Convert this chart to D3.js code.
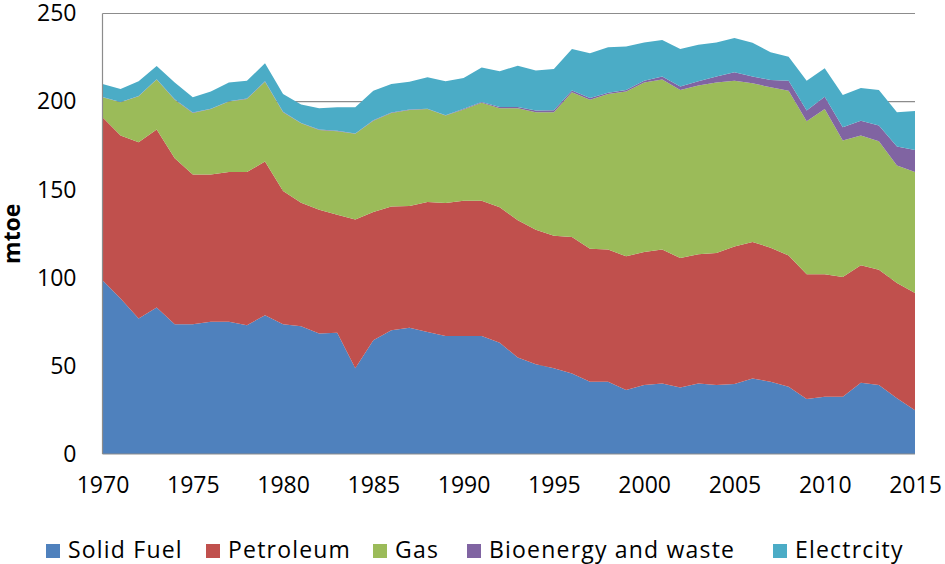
<!DOCTYPE html>
<html>
<head>
<meta charset="utf-8">
<script src="https://cdn.jsdelivr.net/npm/d3@7"></script>
<style>
  html, body { margin: 0; padding: 0; background: #fff; }
  svg { display: block; font-family: "Open Sans", "Lato", sans-serif; }
</style>
</head>
<body>
<svg id="chart" width="945" height="564"></svg>
<script>
const years = [1970,1971,1972,1973,1974,1975,1976,1977,1978,1979,1980,1981,1982,1983,1984,1985,1986,1987,1988,1989,1990,1991,1992,1993,1994,1995,1996,1997,1998,1999,2000,2001,2002,2003,2004,2005,2006,2007,2008,2009,2010,2011,2012,2013,2014,2015];
const seriesNames = ["Solid Fuel","Petroleum","Gas","Bioenergy and waste","Electrcity"];
const seriesColors = ["#4F81BD","#C0504D","#9BBB59","#8064A2","#4BACC6"];
const solidFuel = [98.6,88.2,76.9,83.1,73.7,73.7,75.0,75.0,73.1,78.8,73.7,72.5,68.4,68.8,48.6,64.6,70.3,71.6,69.3,66.9,66.9,66.9,63.1,54.8,51.0,48.6,45.7,41.0,41.0,36.3,39.1,40.0,37.8,40.0,39.1,39.7,42.9,41.0,38.1,31.2,32.5,32.5,40.4,39.1,31.6,24.9];
const petroleum = [92.5,92.5,100.1,101.0,94.2,84.9,83.6,85.0,86.9,87.2,75.5,70.1,70.2,67.0,84.5,72.7,70.2,69.1,73.7,75.5,76.8,76.8,77.0,77.8,76.3,75.3,77.4,75.5,75.0,75.9,75.5,76.0,73.4,73.3,75.0,78.1,77.4,76.1,74.6,70.8,69.5,68.0,66.7,65.5,65.5,66.5];
const gas = [11.3,18.9,26.0,28.4,33.2,35.0,37.2,40.0,41.5,45.3,44.8,45.1,45.3,47.4,48.6,51.9,53.1,54.6,52.8,49.7,51.8,55.6,56.1,63.6,66.7,70.1,82.2,84.6,88.3,93.6,96.3,96.5,95.4,95.8,96.8,94.1,90.1,91.0,93.5,86.8,93.8,77.4,73.6,72.9,66.6,68.6];
const bioenergy = [0.2,0.2,0.2,0.2,0.2,0.2,0.2,0.2,0.2,0.2,0.2,0.2,0.2,0.2,0.2,0.2,0.2,0.2,0.2,0.2,0.4,0.5,0.8,0.8,1.0,1.1,1.0,0.9,0.7,0.8,0.9,1.7,1.9,2.4,3.3,4.7,3.8,4.2,5.6,6.1,7.0,7.5,8.5,8.9,10.8,12.6];
const electricity = [7.4,7.4,8.3,7.5,9.6,8.6,9.8,10.7,10.2,10.2,10.1,10.4,12.1,13.4,14.9,16.8,16.2,15.8,17.8,19.2,17.5,19.6,20.2,23.4,22.6,23.4,23.6,25.4,25.8,24.7,21.7,20.8,21.4,20.8,19.4,19.5,19.2,15.7,13.7,17.0,16.1,18.4,18.5,20.2,19.5,22.0];
const xTicks = [1970,1975,1980,1985,1990,1995,2000,2005,2010,2015];
const yTicks = [0,50,100,150,200,250];
const yLabel = "mtoe";

const seriesValues = [solidFuel, petroleum, gas, bioenergy, electricity];
const table = years.map((yr, i) => {
  const row = { year: yr };
  seriesNames.forEach((n, k) => row[n] = seriesValues[k][i]);
  return row;
});

const svg = d3.select("#chart");
const mLeft = 102.5, mRight = 915, mTop = 13.5, mBottom = 454;
const x = d3.scaleLinear().domain([1970, 2015]).range([mLeft, mRight]);
const y = d3.scaleLinear().domain([0, 250]).range([mBottom, mTop]);

// gridlines
svg.append("g").selectAll("line").data(yTicks.filter(t => t > 0)).join("line")
  .attr("x1", mLeft).attr("x2", mRight)
  .attr("y1", d => y(d)).attr("y2", d => y(d))
  .attr("stroke", "#8c8c8c").attr("stroke-width", 1.2);

const stacked = d3.stack().keys(seriesNames)(table);
const area = d3.area()
  .x(d => x(d.data.year))
  .y0(d => y(d[0]))
  .y1(d => y(d[1]));

svg.append("g").selectAll("path").data(stacked).join("path")
  .attr("d", area)
  .attr("fill", (d, i) => seriesColors[i]);

// axis lines
svg.append("line").attr("x1", mLeft).attr("x2", mLeft).attr("y1", mTop).attr("y2", mBottom)
  .attr("stroke", "#8c8c8c").attr("stroke-width", 1.2);
svg.append("line").attr("x1", mLeft).attr("x2", mRight).attr("y1", mBottom).attr("y2", mBottom)
  .attr("stroke", "#8c8c8c").attr("stroke-width", 1.2);

// y axis labels
const yAxis = d3.axisLeft(y).tickValues(yTicks).tickSize(0).tickPadding(26);
const gy = svg.append("g").attr("transform", `translate(${mLeft},0)`).call(yAxis);
gy.select(".domain").remove();
gy.selectAll("text").attr("font-size", 23).attr("fill", "#000").attr("font-family", "'Open Sans', sans-serif");

// x axis labels
const xAxis = d3.axisBottom(x).tickValues(xTicks).tickFormat(d3.format("d")).tickSize(0).tickPadding(23);
const gx = svg.append("g").attr("transform", `translate(0,${mBottom})`).call(xAxis);
gx.select(".domain").remove();
gx.selectAll("text").attr("font-size", 23).attr("fill", "#000").attr("font-family", "'Open Sans', sans-serif");

// y title
svg.append("text")
  .attr("transform", `translate(20,${(mTop + mBottom) / 2}) rotate(-90)`)
  .attr("text-anchor", "middle")
  .attr("font-size", 23).attr("font-weight", "bold")
  .text(yLabel);

// legend (layout positions of each entry's swatch)
const legendX = [46, 206, 373, 467, 773];
const baseline = 558;
const leg = svg.append("g");
seriesNames.forEach((n, i) => {
  const g = leg.append("g").attr("transform", `translate(${legendX[i]},0)`);
  g.append("rect").attr("x", 0).attr("y", baseline - 14).attr("width", 14).attr("height", 14).attr("fill", seriesColors[i]);
  g.append("text").attr("x", 22).attr("y", baseline).attr("font-size", 23)
    .attr("letter-spacing", 1.2).attr("fill", "#000").text(n);
});
</script>
</body>
</html>
